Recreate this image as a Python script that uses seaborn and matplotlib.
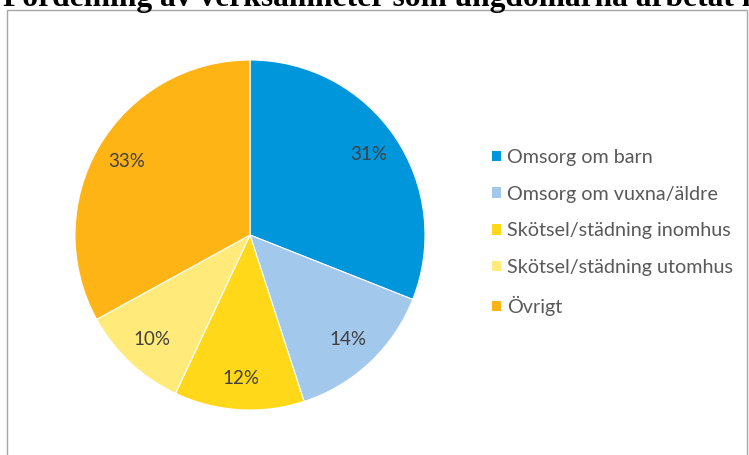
import matplotlib
matplotlib.use("Agg")
import matplotlib.pyplot as plt
import seaborn as sns
from matplotlib.patches import Rectangle

# data
categories = ["Omsorg om barn", "Omsorg om vuxna/äldre", "Skötsel/städning inomhus",
              "Skötsel/städning utomhus", "Övrigt"]
shares = [31, 14, 12, 10, 33]
slice_colors = ["#0096DB", "#A2C8EC", "#FFD81A", "#FFEA7A", "#FFB416"]
title_text = "Fördelning av verksamheter som ungdomarna arbetat med"

sns.set_theme(style="white")
plt.rcParams['font.family'] = ['Lato', 'DejaVu Sans']

W, H = 749, 455
fig = plt.figure(figsize=(W / 100, H / 100), dpi=100)

# pie centre (250, 235) px from top-left, radius 175 px
cx, cy, r = 250, 235, 175
ax = fig.add_axes([(cx - r) / W, (H - cy - r) / H, 2 * r / W, 2 * r / H])

palette = sns.color_palette(slice_colors)
wedges, texts, autotexts = ax.pie(
    shares, colors=palette, startangle=90, counterclock=False,
    autopct=lambda p: f"{p:.0f}%", pctdistance=0.82,
    wedgeprops=dict(edgecolor="white", linewidth=0.8),
    textprops=dict(fontsize=13.5, color="#404040"))
ax.set_xlim(-1, 1)
ax.set_ylim(-1, 1)
ax.set_aspect("equal")

leg = fig.legend(wedges, categories, loc="center left",
                 bbox_to_anchor=(492 / W, 1 - 232.5 / H),
                 frameon=False, borderpad=0, borderaxespad=0,
                 handlelength=0.45, handleheight=0.45, handletextpad=0.3,
                 labelspacing=1.0, fontsize=14.2)
for t in leg.get_texts():
    t.set_color("#595959")
for h in leg.legend_handles:
    h.set_edgecolor("none")

# chart border (only left/top/right visible in the crop)
fig.patches.append(Rectangle((7 / W, -0.1), 740 / W, 1.1 - 10 / H,
                             transform=fig.transFigure, fill=False,
                             edgecolor="#a6a6a6", linewidth=1.0))

# clipped title above the chart
fig.text(3 / W, 1 - 6 / H, title_text, ha="left", va="baseline",
         fontsize=22.7, fontweight="bold", family="Liberation Serif", color="black")

fig.savefig("out.png", dpi=100)
